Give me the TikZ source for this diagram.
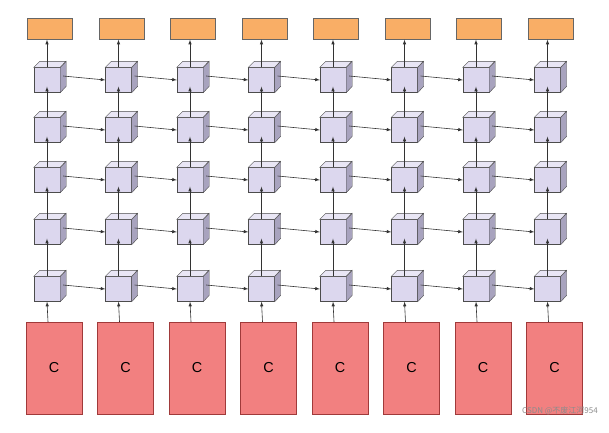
\documentclass[tikz,border=0pt]{standalone}
\usepackage{fontspec}
\setsansfont{Liberation Sans}
\newfontfamily\cjk{Noto Sans CJK SC}
\definecolor{cubefront}{HTML}{DCD7EE}
\definecolor{cubeside}{HTML}{A8A3BE}
\definecolor{cubetop}{HTML}{E9E6F5}
\definecolor{outbox}{HTML}{F9AE66}
\definecolor{inbox}{HTML}{F28080}
\definecolor{inedge}{HTML}{A03A3A}
\tikzset{
  cell/.style={draw=black!70, fill=cubefront, minimum width=26pt, minimum height=25pt, inner sep=0pt},
  cellside/.style={draw=black!70, fill=cubeside},
  celltop/.style={draw=black!70, fill=cubetop},
  outcell/.style={draw=black!60, fill=outbox, minimum width=45pt, minimum height=21pt, inner sep=0pt},
  incell/.style={draw=inedge, fill=inbox, minimum width=56pt, minimum height=92pt, inner sep=0pt, font=\sffamily\Large},
  link/.style={draw=black!80, -latex, semithick}
}
\begin{document}
\begin{tikzpicture}[x=1pt, y=-1pt]
  \useasboundingbox (0,0) rectangle (609,432);
  \foreach \c in {0,...,7}
  {
    \pgfmathsetmacro{\xx}{47+71.5*\c}
    \node[incell] (in\c) at (\xx+7, 368) {C};
    \node[outcell] (out\c) at (\xx+3, 29) {};
    \foreach \r/\yy in {1/289, 2/232, 3/180, 4/130, 5/80}
    {
      \node[cell] (n\c\r) at (\xx, \yy) {};
      \path[cellside] (n\c\r.north east) -- ++(6,-6) -- ++(0,25) -- (n\c\r.south east) -- cycle;
      \path[celltop] (n\c\r.north west) -- ++(6,-6) -- ++(26,0) -- (n\c\r.north east) -- cycle;
    }
  }
  % upward links
  \foreach \c in {0,...,7}
  {
    \path[link] ([xshift=-6pt]in\c.north) -- (n\c1.south);
    \path[link] (n\c1.north) -- ([yshift=6]n\c2.south);
    \path[link] (n\c2.north) -- ([yshift=6]n\c3.south);
    \path[link] (n\c3.north) -- ([yshift=6]n\c4.south);
    \path[link] (n\c4.north) -- ([yshift=6]n\c5.south);
    \path[link] (n\c5.north) -- ([xshift=-3pt]out\c.south);
  }
  % sideways links
  \foreach \c [evaluate=\c as \d using int(\c+1)] in {0,...,6}
    \foreach \r in {1,...,5}
      \path[link] ([xshift=3pt,yshift=4pt]n\c\r.east) -- (n\d\r.west);
  \node[text=black!45, font=\cjk\footnotesize, anchor=east, inner sep=0pt] (mark) at (598, 411) {CSDN @不废江河954};
\end{tikzpicture}
\end{document}
